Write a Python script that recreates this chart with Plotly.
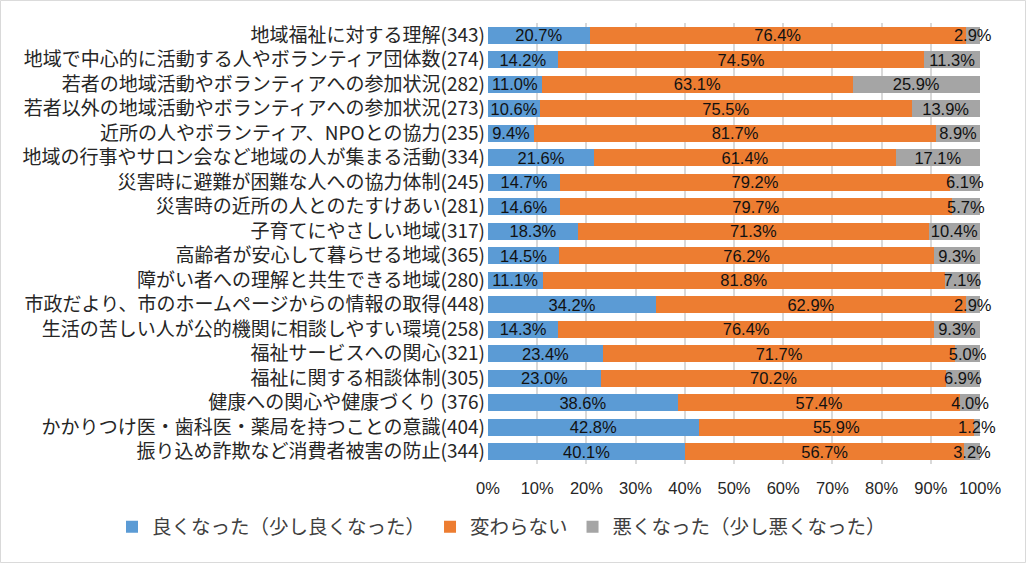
import plotly.graph_objects as go

categories = [
    "地域福祉に対する理解(343)",
    "地域で中心的に活動する人やボランティア団体数(274)",
    "若者の地域活動やボランティアへの参加状況(282)",
    "若者以外の地域活動やボランティアへの参加状況(273)",
    "近所の人やボランティア、NPOとの協力(235)",
    "地域の行事やサロン会など地域の人が集まる活動(334)",
    "災害時に避難が困難な人への協力体制(245)",
    "災害時の近所の人とのたすけあい(281)",
    "子育てにやさしい地域(317)",
    "高齢者が安心して暮らせる地域(365)",
    "障がい者への理解と共生できる地域(280)",
    "市政だより、市のホームページからの情報の取得(448)",
    "生活の苦しい人が公的機関に相談しやすい環境(258)",
    "福祉サービスへの関心(321)",
    "福祉に関する相談体制(305)",
    "健康への関心や健康づくり (376)",
    "かかりつけ医・歯科医・薬局を持つことの意識(404)",
    "振り込め詐欺など消費者被害の防止(344)",
]
better = [20.7, 14.2, 11.0, 10.6, 9.4, 21.6, 14.7, 14.6, 18.3, 14.5, 11.1, 34.2, 14.3, 23.4, 23.0, 38.6, 42.8, 40.1]
same = [76.4, 74.5, 63.1, 75.5, 81.7, 61.4, 79.2, 79.7, 71.3, 76.2, 81.8, 62.9, 76.4, 71.7, 70.2, 57.4, 55.9, 56.7]
worse = [2.9, 11.3, 25.9, 13.9, 8.9, 17.1, 6.1, 5.7, 10.4, 9.3, 7.1, 2.9, 9.3, 5.0, 6.9, 4.0, 1.2, 3.2]
series_names = ["良くなった（少し良くなった）", "変わらない", "悪くなった（少し悪くなった）"]
colors = ["#5B9BD5", "#ED7D31", "#A5A5A5"]
tick_vals = [0, 10, 20, 30, 40, 50, 60, 70, 80, 90, 100]
tick_text = [f"{v}%" for v in tick_vals]

FONT = "Noto Sans CJK JP, Noto Sans, sans-serif"
NUMFONT = "Liberation Sans, Arial, sans-serif"

fig = go.Figure()
for name, vals, col in zip(series_names, [better, same, worse], colors):
    fig.add_trace(go.Bar(
        y=categories, x=vals, name=name, orientation="h",
        customdata=vals,
        marker=dict(color=col, line=dict(width=0)),
        texttemplate="%{customdata:.1f}%", textposition="inside",
        insidetextanchor="middle", constraintext="none", textangle=0,
        textfont=dict(size=16.5, color="#111111", family=NUMFONT),
        cliponaxis=False,
    ))

W, H = 1026, 563
ml, mr, mt, mb = 488, 46, 23, 99
pw, ph = W - ml - mr, H - mt - mb
fig.update_layout(
    barmode="stack",
    barnorm="percent",
    bargap=0.3,
    width=W, height=H,
    margin=dict(l=ml, r=mr, t=mt, b=mb, autoexpand=False),
    paper_bgcolor="white", plot_bgcolor="white",
    font=dict(family=FONT, size=15, color="#262626"),
    showlegend=True,
    legend=dict(
        orientation="h", xref="paper", yref="paper",
        x=(112 - ml) / pw, xanchor="left",
        y=(H - mb - 527) / ph, yanchor="middle",
        font=dict(size=19.5, color="#404040", family=FONT),
        itemwidth=30, traceorder="normal",
    ),
    xaxis=dict(
        range=[0, 100], tickvals=tick_vals, ticktext=tick_text,
        showgrid=True, gridcolor="#D9D9D9", gridwidth=2,
        zeroline=False, showline=False, ticks="", ticklabelstandoff=12,
        tickfont=dict(size=16.5, color="#262626", family=NUMFONT),
        fixedrange=True,
    ),
    yaxis=dict(
        autorange="reversed", showgrid=False, zeroline=False,
        showline=False, ticks="", ticklabelstandoff=2,
        tickfont=dict(size=19, color="#262626", family=FONT),
        fixedrange=True,
    ),
    shapes=[dict(
        type="rect", xref="paper", yref="paper",
        x0=-ml / pw + 0.001, x1=1 + mr / pw - 0.001,
        y0=-mb / ph + 0.001, y1=1 + mt / ph - 0.001,
        line=dict(color="#D9D9D9", width=1), fillcolor="rgba(0,0,0,0)", layer="below",
    )],
)

fig.write_html("out.html", config={"displayModeBar": False},
               post_script="document.body.style.margin='0';")
